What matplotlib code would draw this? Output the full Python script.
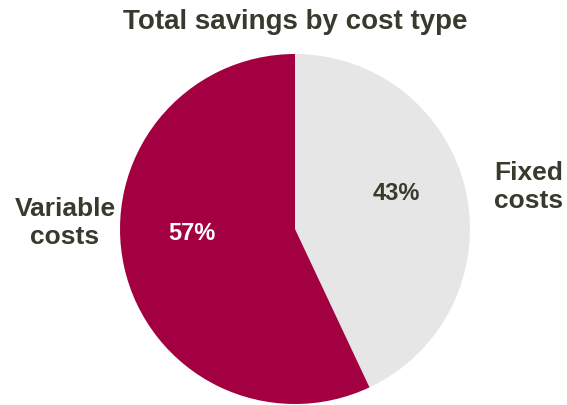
import matplotlib
matplotlib.use("Agg")
import matplotlib.pyplot as plt

categories = ["Fixed\ncosts", "Variable\ncosts"]
values = [43, 57]
pct_labels = ["43%", "57%"]
colors = ["#E6E6E6", "#A30042"]
title = "Total savings by cost type"

plt.rcParams['font.family'] = ['Liberation Sans', 'DejaVu Sans']
txt = "#3A392E"

fig = plt.figure(figsize=(5.67, 4.06), dpi=100)
ax = fig.add_axes([120/567, 1/406, 350/567, 350/406])
wedges, _ = ax.pie(values, colors=colors, startangle=90, counterclock=False,
                   radius=1, wedgeprops=dict(linewidth=0))
ax.set_xlim(-1, 1)
ax.set_ylim(-1, 1)
ax.set_aspect('equal')

# percentage labels
ax.text(0.58, 0.21, pct_labels[0], ha='center', va='center', fontsize=17,
        fontweight='bold', color=txt)
ax.text(-0.59, -0.02, pct_labels[1], ha='center', va='center', fontsize=17,
        fontweight='bold', color='white')

# category labels
fig.text(529/567, 1 - 187/406, categories[0], ha='center', va='center', fontsize=19,
         fontweight='bold', color=txt, linespacing=1.2)
fig.text(65/567, 1 - 223/406, categories[1], ha='center', va='center', fontsize=19,
         fontweight='bold', color=txt, linespacing=1.2)

fig.text(295/567, 1 - 22/406, title, ha='center', va='center', fontsize=20,
         fontweight='bold', color=txt)

fig.savefig("out.png", dpi=100)
